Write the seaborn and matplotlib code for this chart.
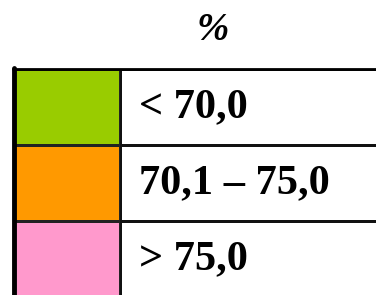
import numpy as np
import matplotlib
matplotlib.use('Agg')
import matplotlib.pyplot as plt
import seaborn as sns
from matplotlib.colors import ListedColormap

# legend classes
labels = ['< 70,0', '70,1 \u2013 75,0', '> 75,0']
colors = ['#99CC00', '#FF9900', '#FF99CC']
title = '%'

W, H = 376, 295


def px_axes(fig, x0, y0, x1, y1):
    # axes placed in pixel coords (top-left origin)
    return fig.add_axes([x0 / W, 1 - y1 / H, (x1 - x0) / W, (y1 - y0) / H])


sns.set_theme(style='white')
plt.rcParams['font.family'] = ['Liberation Serif', 'DejaVu Serif']

fig = plt.figure(figsize=(W / 100, H / 100), dpi=100)
fig.patch.set_facecolor('white')

top, row_h = 69, 76
bottom = top + row_h * len(labels)

# colour column
ax_col = px_axes(fig, 14, top, 120, bottom)
sns.heatmap(np.arange(len(labels)).reshape(-1, 1), cmap=ListedColormap(colors),
            cbar=False, linewidths=2, linecolor='#222222', ax=ax_col)
ax_col.set_xticks([])
ax_col.set_yticks([])

# text column
ax_txt = px_axes(fig, 120, top, W + 10, bottom)
sns.heatmap(np.zeros((len(labels), 1)), cmap=ListedColormap(['white']),
            cbar=False, linewidths=2, linecolor='#111111', ax=ax_txt)
ax_txt.set_xticks([])
ax_txt.set_yticks([])
for i, lab in enumerate(labels):
    ax_txt.text(0.07, i + 0.5, lab, ha='left', va='center',
                fontsize=30.5, fontweight='bold', color='black')

# outer left border thicker
fig.add_artist(plt.Line2D([14 / W, 14 / W], [1 - (top - 1) / H, 0], color='black', lw=3.5))
fig.add_artist(plt.Line2D([13 / W, 1], [1 - top / H, 1 - top / H], color='black', lw=2))

fig.text(213 / W, 1 - 30 / H, title, ha='center', va='center',
         fontsize=28, fontweight='bold', fontstyle='italic', color='black')

fig.savefig('out.png', dpi=100)
